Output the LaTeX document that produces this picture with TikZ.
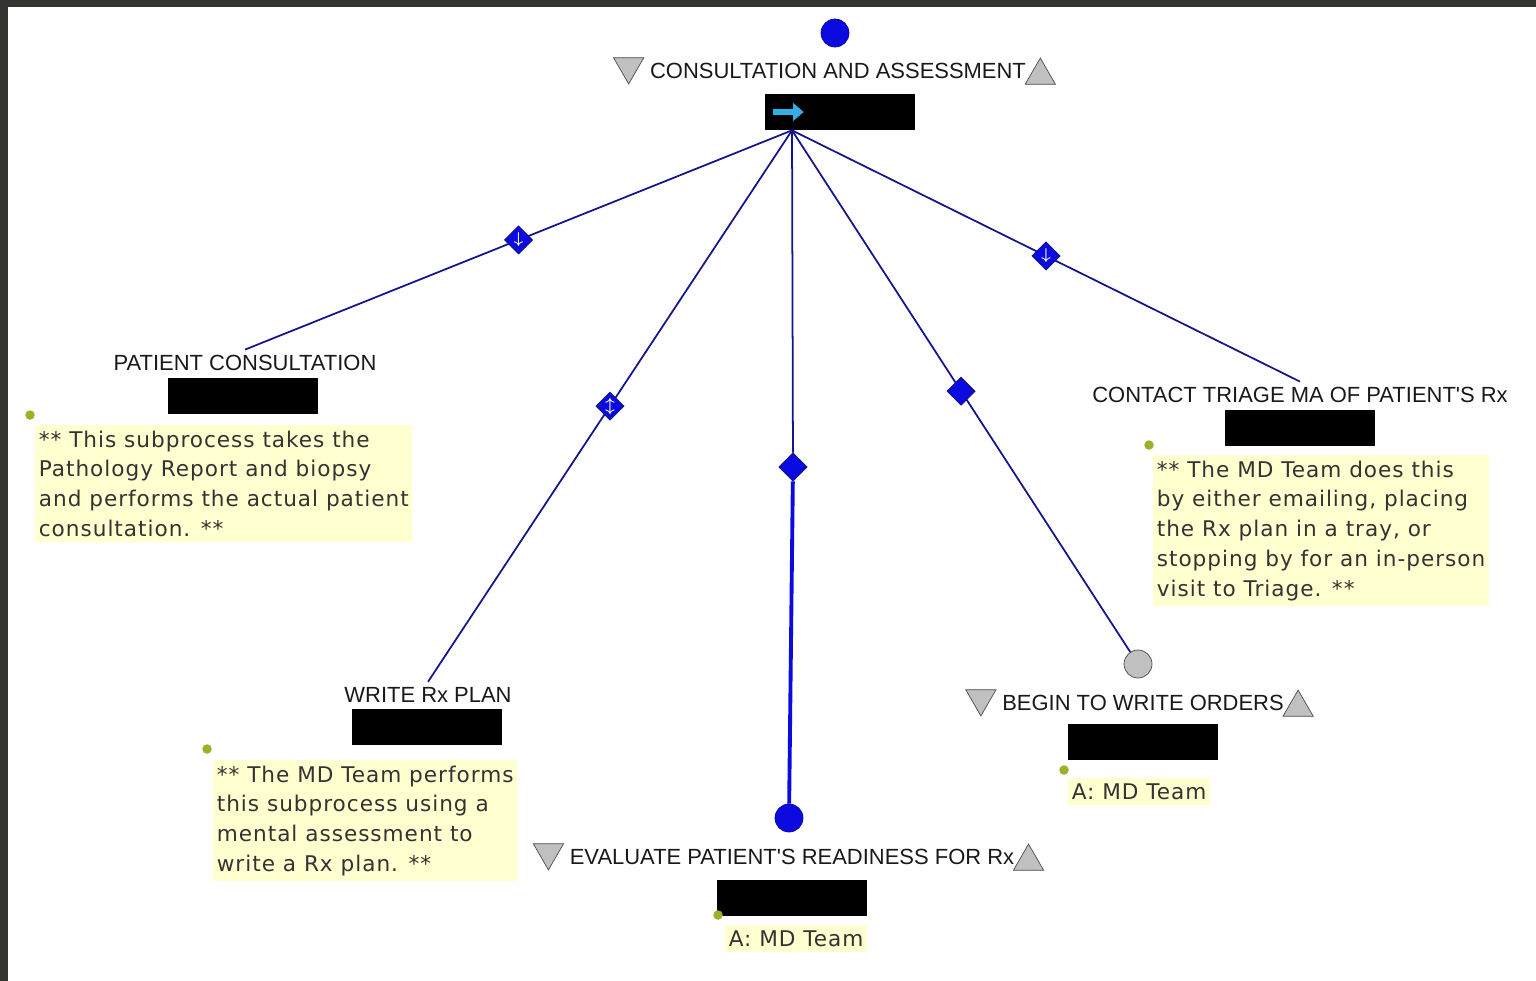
\documentclass[tikz,border=0pt]{standalone}
\usepackage{fontspec}
\setmainfont{DejaVu Sans}
\newfontfamily\labelfont{Liberation Sans}
\newfontfamily\notefont[LetterSpace=4.5]{DejaVu Sans}
\usepackage{tikz}
\usetikzlibrary{positioning,shapes.geometric,arrows.meta}
\definecolor{framegray}{RGB}{52,52,48}
\definecolor{linknavy}{RGB}{20,20,140}
\definecolor{nodeblue}{RGB}{10,10,225}
\definecolor{markgray}{RGB}{192,192,192}
\definecolor{noteyellow}{RGB}{255,255,208}
\definecolor{dotgreen}{RGB}{160,175,40}
\definecolor{arrowcyan}{RGB}{50,175,230}
\tikzset{
  link/.style={draw=linknavy,line width=1pt},
  mainlink/.style={draw=nodeblue,line width=2.2pt},
  gate/.style={shape=diamond,fill=nodeblue,draw=linknavy,line width=0.6pt,inner sep=0pt,minimum size=0.56cm,text=white,font=\small\boldmath},
  event/.style={shape=circle,fill=nodeblue,draw=nodeblue!70!black,inner sep=0pt,minimum size=0.56cm},
  endevent/.style={event,fill=markgray,draw=black!70},
  task/.style={font=\labelfont\fontsize{12.5}{14}\selectfont,text=black!90,inner sep=0pt},
  redact/.style={fill=black,minimum width=3cm,minimum height=0.72cm,inner sep=0pt},
  opener/.style={regular polygon,regular polygon sides=3,shape border rotate=180,fill=markgray,draw=black!70,inner sep=0pt,minimum size=0.7cm,yshift=2.6pt},
  closer/.style={opener,shape border rotate=0,yshift=-5.2pt},
  pin/.style={shape=circle,fill=dotgreen,inner sep=0pt,minimum size=0.19cm},
  note/.style={fill=noteyellow,text=black!80,align=left,anchor=north west,inner xsep=2pt,inner ysep=3pt,font=\notefont\fontsize{12.3}{17}\selectfont}
}

\begin{document}
\begin{tikzpicture}[x=0.02cm,y=-0.02cm]
  \useasboundingbox (0,0) rectangle (1536,981);
  \fill[framegray] (0,0) rectangle (1536,7);
  \fill[framegray] (0,0) rectangle (8,981);

  % consultation and assessment
  \node[event] (start) at (835,33) {};
  \node[task] (ca) at (838,71) {CONSULTATION AND ASSESSMENT};
  \node[opener,left=6pt of ca] (ca-in) {};
  \node[closer,right=2pt of ca] (ca-out) {};
  \node[redact] (ca-box) at (840,112) {};
  \draw[-{Triangle[length=6pt,width=10pt]},arrowcyan,line width=3pt] ([xshift=0.16cm]ca-box.west) -- ([xshift=0.78cm]ca-box.west);
  \coordinate (hub) at ([xshift=-0.96cm]ca-box.south);

  % patient consultation
  \node[task] (pc) at (245,363) {PATIENT CONSULTATION};
  \node[redact] (pc-box) at (243,396) {};
  \node[pin] (pc-pin) at (30,415) {};
  \node[note] (pc-note) at (35,425) {** This subprocess takes the\\Pathology Report and biopsy\\and performs the actual patient\\consultation. **};

  % write rx plan
  \node[task] (rx) at (428,695) {WRITE Rx PLAN};
  \node[redact] (rx-box) at (427,727) {};
  \node[pin] (rx-pin) at (207,749) {};
  \node[note] (rx-note) at (213,760) {** The MD Team performs\\this subprocess using a\\mental assessment to\\write a Rx plan. **};

  % evaluate readiness
  \node[event] (ev-end) at (789,818) {};
  \node[task] (ev) at (792,857) {EVALUATE PATIENT'S READINESS FOR Rx};
  \node[opener,left=6pt of ev] (ev-in) {};
  \node[closer,right=2pt of ev] (ev-out) {};
  \node[redact] (ev-box) at (792,898) {};
  \node[pin] (ev-pin) at (718,915) {};
  \node[note] (ev-note) at (725,925) {A: MD Team};

  % begin to write orders
  \node[endevent] (bw-end) at (1138,664) {};
  \node[task] (bw) at (1143,703) {BEGIN TO WRITE ORDERS};
  \node[opener,left=6pt of bw] (bw-in) {};
  \node[closer,right=2pt of bw] (bw-out) {};
  \node[redact] (bw-box) at (1143,742) {};
  \node[pin] (bw-pin) at (1064,770) {};
  \node[note] (bw-note) at (1068,778) {A: MD Team};

  % contact triage
  \node[task] (ct) at (1300,395) {CONTACT TRIAGE MA OF PATIENT'S Rx};
  \node[redact] (ct-box) at (1300,428) {};
  \node[pin] (ct-pin) at (1149,445) {};
  \node[note] (ct-note) at (1153,455) {** The MD Team does this\\by either emailing, placing\\the Rx plan in a tray, or\\stopping by for an in-person\\visit to Triage. **};

  % links
  \draw[link] (hub) -- node[gate,pos=0.5] (g-pc) {$\downarrow$} ([yshift=3pt]pc.north);
  \draw[link] (hub) -- node[gate,pos=0.5] (g-rx) {$\updownarrow$} ([yshift=3pt]rx.north);
  \node[gate] (g-ev) at (793,467) {};
  \draw[link] (hub) -- (g-ev);
  \draw[mainlink] (g-ev) -- (ev-end);
  \draw[link] (hub) -- node[gate,pos=0.5] (g-bw) {} (bw-end);
  \draw[link] (hub) -- node[gate,pos=0.5] (g-ct) {$\downarrow$} ([yshift=3pt]ct.north);
\end{tikzpicture}
\end{document}
